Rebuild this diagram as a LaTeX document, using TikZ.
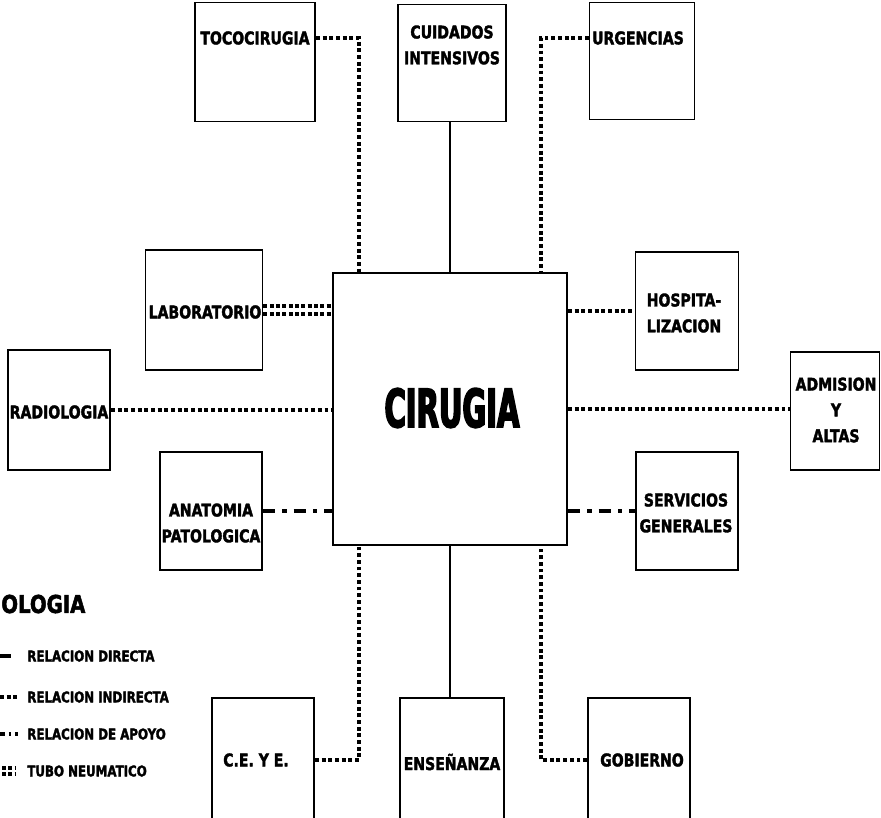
\documentclass[tikz,border=0pt]{standalone}
\usepackage{fontspec}
\usetikzlibrary{calc}
\newfontfamily\boxfont{DejaVu Sans}[FakeStretch=0.8,FakeBold=2]
\newfontfamily\cirfont{DejaVu Sans}[FakeStretch=0.55,FakeBold=3]
\tikzset{
  caja/.style={draw,line width=1.1pt,inner sep=0pt},
  rotulo/.style={font=\boxfont\bfseries\fontsize{10}{14.7}\selectfont,align=center,inner sep=0pt},
  leyenda/.style={font=\boxfont\bfseries\fontsize{8.4}{8.4}\selectfont,anchor=west,inner sep=0pt},
  directa/.style={line width=1.5pt},
  indirecta/.style={line width=1.9pt,dash pattern=on 2.2pt off 1.6pt},
  apoyo/.style={line width=2.6pt,dash pattern=on 7pt off 4pt on 2.5pt off 4pt},
  tubo/.style={line width=2pt,dash pattern=on 2.2pt off 1.4pt}
}
\begin{document}
\begin{tikzpicture}[x=0.02cm,y=-0.02cm]
\useasboundingbox (0,0) rectangle (881,817);
\clip (0,0) rectangle (881,817);
% departamentos: nombre/x/y/ancho/alto
\foreach \n/\x/\y/\w/\h in {toco/255/62/120/119,cuid/452/63/108/117,urg/642/61/105/117,
  lab/204/310/117/120,hosp/687/311/103/118,radio/59/410/102/120,adm/835/411/89/118,
  anat/211/511/102/118,serv/687/511/102/118,
  ceye/263/764/102/132,ens/452/764/104/132,gob/639/764/102/132}
  \node[caja,minimum width=\w*0.02cm,minimum height=\h*0.02cm] (\n) at (\x,\y) {};
\node[caja,minimum width=234*0.02cm,minimum height=272*0.02cm] (cir) at (450,409) {};
\node[font=\cirfont\bfseries\fontsize{30}{30}\selectfont,inner sep=0pt] (cirT) at (452,408) {CIRUGIA};

\node[rotulo] (tocoT) at (255,38) {TOCOCIRUGIA};
\node[rotulo] (cuidT) at (452,45) {CUIDADOS\\INTENSIVOS};
\node[rotulo] (urgT) at (638,38) {URGENCIAS};
\node[rotulo] (labT) at (205,312) {LABORATORIO};
\node[rotulo] (hospT) at (684,313) {HOSPITA-\\LIZACION};
\node[rotulo] (radioT) at (59,412) {RADIOLOGIA};
\node[rotulo] (admT) at (836,410) {ADMISION\\Y\\ALTAS};
\node[rotulo] (anatT) at (211,523) {ANATOMIA\\PATOLOGICA};
\node[rotulo] (servT) at (686,513) {SERVICIOS\\GENERALES};
\node[rotulo] (ceyeT) at (256,760) {C.E. Y E.};
\node[rotulo] (ensT) at (452,762) {ENSEÑANZA};
\node[rotulo] (gobT) at (642,760) {GOBIERNO};

% relaciones con cirugia
\draw[directa] (cuid.south -| cir.north) -- (cir.north);
\draw[directa] (cir.south) -- (cir.south |- ens.north);
\draw[indirecta] (toco.east |- tocoT) -| ($(cir.north west)+(27,0)$);
\draw[indirecta] (urg.west |- urgT) -| ($(cir.north east)+(-27,0)$);
\draw[indirecta] (ceye.east |- ceyeT) -| ($(cir.south west)+(27,0)$);
\draw[indirecta] (gob.west |- gobT) -| ($(cir.south east)+(-27,0)$);
\draw[indirecta] (cir.east |- hosp) -- (hosp.west);
\draw[indirecta] (radio.east) -- (radio.east -| cir.west);
\draw[indirecta] (cir.east) -- (cir.east -| adm.west);
\draw[apoyo] (anat.east) -- (anat.east -| cir.west);
\draw[apoyo] (serv.west -| cir.east) -- (serv.west);
\foreach \d in {-4,4}
  \draw[tubo] ($(lab.east)+(0,\d)$) -- ($(lab.east -| cir.west)+(0,\d)$);

% simbologia
\node[font=\boxfont\bfseries\fontsize{14}{14}\selectfont,anchor=west,inner sep=0pt] (simb) at (1,604) {OLOGIA};
\node[leyenda] (leyD) at (27,656) {RELACION DIRECTA};
\node[leyenda] (leyI) at (27,697) {RELACION INDIRECTA};
\node[leyenda] (leyA) at (27,734) {RELACION DE APOYO};
\node[leyenda] (leyT) at (27,771) {TUBO NEUMATICO};
\draw[line width=2.2pt] ($(leyD.west)+(-27,0)$) -- ($(leyD.west)+(-16,0)$);
\draw[indirecta] ($(leyI.west)+(-27,0)$) -- ($(leyI.west)+(-9,0)$);
\draw[line width=2.2pt,dash pattern=on 3pt off 2pt on 1.5pt off 2pt] ($(leyA.west)+(-27,0)$) -- ($(leyA.west)+(-9,0)$);
\foreach \d in {-3,3}
  \draw[tubo] ($(leyT.west)+(-25,\d)$) -- ($(leyT.west)+(-12,\d)$);
\end{tikzpicture}
\end{document}
